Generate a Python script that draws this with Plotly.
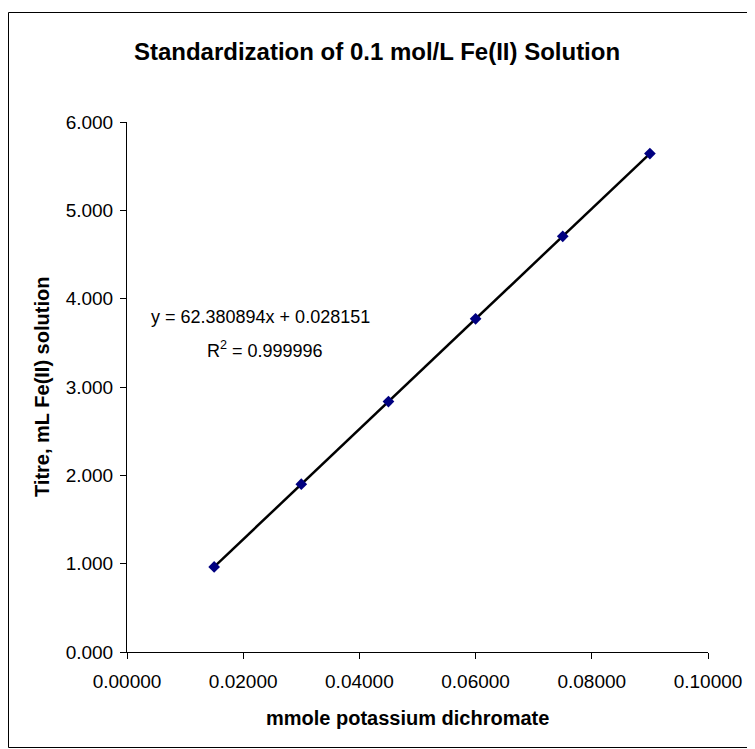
import numpy as np
import plotly.graph_objects as go

# Data
mmole_dichromate = [0.015, 0.030, 0.045, 0.060, 0.075, 0.090]
titre_ml = [0.963, 1.900, 2.835, 3.772, 4.706, 5.643]
x_ticks = [0.0, 0.02, 0.04, 0.06, 0.08, 0.10]
y_ticks = [0, 1, 2, 3, 4, 5, 6]

title_text = "Standardization of 0.1 mol/L Fe(II) Solution"
x_title = "mmole potassium dichromate"
y_title = "Titre, mL Fe(II) solution"
eq_line = "y = 62.380894x + 0.028151"
r2_line = "R<sup>2</sup> = 0.999996"

slope, intercept = np.polyfit(mmole_dichromate, titre_ml, 1)
fit_x = [min(mmole_dichromate), max(mmole_dichromate)]
fit_y = [slope * v + intercept for v in fit_x]

# page is offset by the 8px body margin
OFF = 8
W, H = 755 - OFF, 749 - OFF
PL, PT = 127, 122          # plot area left/top on page
pw, ph = 581, 530
L, T = PL - OFF, PT - OFF
R = W - L - pw
B = H - T - ph

def px(xp):
    return (xp - PL) / pw

def py(yp):
    return (PT + ph - yp) / ph

FONT = "Arial, Liberation Sans, sans-serif"

fig = go.Figure()
fig.add_trace(go.Scatter(x=fit_x, y=fit_y, mode="lines",
                         line=dict(color="black", width=2.5),
                         showlegend=False, hoverinfo="skip"))
fig.add_trace(go.Scatter(x=mmole_dichromate, y=titre_ml, mode="markers",
                         marker=dict(symbol="diamond", size=9, color="#000080",
                                     line=dict(width=0)),
                         showlegend=False))

axis_font = dict(family=FONT, size=19, color="black")

fig.update_layout(
    width=W, height=H,
    margin=dict(l=L, r=R, t=T, b=B),
    paper_bgcolor="white", plot_bgcolor="white",
    font=dict(family=FONT, color="black"),
    xaxis=dict(range=[0, 0.1], tickvals=x_ticks, tickformat=".5f",
               showgrid=False, zeroline=False, showline=True,
               linecolor="black", linewidth=1, ticks="outside", ticklen=6,
               tickcolor="black", tickfont=axis_font, ticklabelstandoff=6),
    yaxis=dict(range=[0, 6], tickvals=y_ticks, tickformat=".3f",
               showgrid=False, zeroline=False, showline=True,
               linecolor="black", linewidth=1, ticks="outside", ticklen=6,
               tickcolor="black", tickfont=axis_font, ticklabelstandoff=3),
    title=dict(text="<b>" + title_text + "</b>", x=(377 - OFF) / W, xanchor="center",
               y=1 - (52 - OFF) / H, yanchor="middle",
               font=dict(size=24, family=FONT)),
    shapes=[dict(type="rect", xref="paper", yref="paper",
                 x0=px(OFF + 0.5), x1=px(751.5), y0=py(747.5), y1=py(12.5),
                 line=dict(color="black", width=1))],
    annotations=[
        dict(text=eq_line, xref="paper", yref="paper",
             x=px(260), y=py(317), xanchor="center", yanchor="middle",
             showarrow=False, font=dict(size=18, family=FONT)),
        dict(text=r2_line, xref="paper", yref="paper",
             x=px(265), y=py(349), xanchor="center", yanchor="middle",
             showarrow=False, font=dict(size=18, family=FONT)),
        dict(text="<b>" + x_title + "</b>", xref="paper", yref="paper",
             x=px(407), y=py(718), xanchor="center", yanchor="middle",
             showarrow=False, font=dict(size=20, family=FONT)),
        dict(text="<b>" + y_title + "</b>", xref="paper", yref="paper",
             x=px(42), y=py(387), xanchor="center", yanchor="middle",
             textangle=-90, showarrow=False, font=dict(size=20, family=FONT)),
    ],
)

fig.write_html("out.html")
